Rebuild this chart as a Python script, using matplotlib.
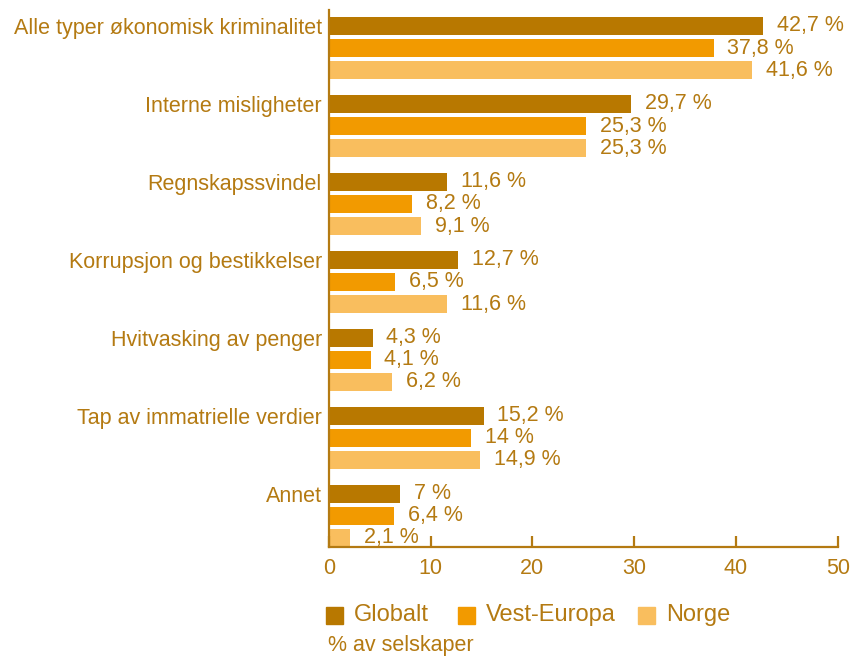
import matplotlib
matplotlib.use('Agg')
import matplotlib.pyplot as plt
from matplotlib.patches import Rectangle

plt.rcParams['font.family'] = ['Liberation Sans', 'DejaVu Sans']

categories = ['Alle typer økonomisk kriminalitet', 'Interne misligheter', 'Regnskapssvindel',
              'Korrupsjon og bestikkelser', 'Hvitvasking av penger',
              'Tap av immatrielle verdier', 'Annet']
globalt = [42.7, 29.7, 11.6, 12.7, 4.3, 15.2, 7]
vest_europa = [37.8, 25.3, 8.2, 6.5, 4.1, 14, 6.4]
norge = [41.6, 25.3, 9.1, 11.6, 6.2, 14.9, 2.1]
series_names = ['Globalt', 'Vest-Europa', 'Norge']
xticks = [0, 10, 20, 30, 40, 50]

colors = ['#B87800', '#F29A00', '#F9BE5E']
text_color = '#B47A12'
fs = 15.5

fig = plt.figure(figsize=(8.54, 6.57), dpi=100)
ax = fig.add_axes([0.385, 0.1674, 0.596, 0.8176])

step = 0.283
h = 0.235
for k, vals in enumerate([globalt, vest_europa, norge]):
    ys = [i + (k - 1) * step for i in range(len(categories))]
    ax.barh(ys, vals, height=h, color=colors[k])
    for y, v in zip(ys, vals):
        lab = ('%g' % v).replace('.', ',') + ' %'
        ax.annotate(lab, (v, y), xytext=(10, 0), textcoords='offset points',
                    ha='left', va='center', fontsize=fs, color=text_color)

ax.set_xlim(0, 50)
ax.set_ylim(6.40, -0.49)
ax.set_xticks(xticks)
ax.set_yticks([i - step for i in range(len(categories))])
ax.set_yticklabels(categories)

for s in ['top', 'right']:
    ax.spines[s].set_visible(False)
for s in ['left', 'bottom']:
    ax.spines[s].set_color(text_color)
    ax.spines[s].set_linewidth(1.6)
ax.tick_params(axis='x', direction='in', length=8, width=1.6, color=text_color,
               labelcolor=text_color, labelsize=fs, pad=8)
ax.tick_params(axis='y', length=0, labelcolor=text_color, labelsize=fs, pad=5)

# legend: squares + labels
W, H = 854, 657
leg_x = [326, 458, 638]
leg_y = 615
sq = 17
for x, c, name in zip(leg_x, colors, series_names):
    fig.add_artist(Rectangle((x / W, (H - leg_y - sq / 2) / H), sq / W, sq / H,
                             color=c, transform=fig.transFigure))
    fig.text((x + sq + 11) / W, (H - leg_y) / H, name, fontsize=17, color=text_color,
             ha='left', va='center')

fig.text(328 / W, (H - 646) / H, '% av selskaper', fontsize=fs, color=text_color,
         ha='left', va='center')

fig.savefig('out.png', dpi=100)
